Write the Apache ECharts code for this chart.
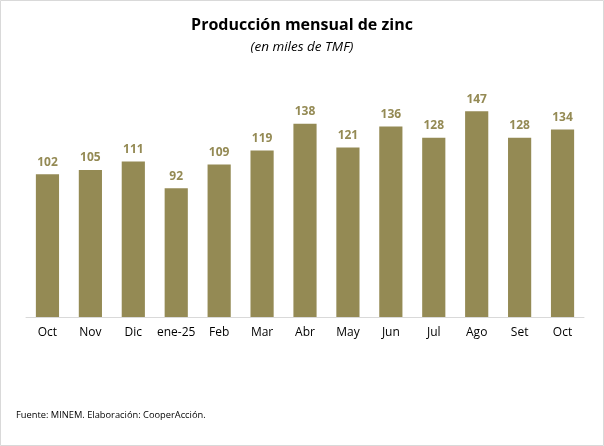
<!DOCTYPE html>
<html><head><meta charset="utf-8">
<script src="https://cdn.jsdelivr.net/npm/echarts@6/dist/echarts.min.js"></script>
<style>html,body{margin:0;padding:0;background:#fff}#c{width:604px;height:446px}</style>
</head><body><div id="c"></div>
<script>
const categories = ["Oct","Nov","Dic","ene-25","Feb","Mar","Abr","May","Jun","Jul","Ago","Set","Oct"];
const values = [102,105,111,92,109,119,138,121,136,128,147,128,134];
const titleText = "Producción mensual de zinc";
const subtitleText = "(en miles de TMF)";
const sourceText = "Fuente: MINEM. Elaboración: CooperAcción.";
const olive = "#948A54";
const chart = echarts.init(document.getElementById('c'), null, {renderer:'canvas'});
chart.setOption({
  animation:false,
  backgroundColor:'#fff',
  textStyle:{fontFamily:'Open Sans'},
  title:[
    {text:titleText,left:'center',top:12,textStyle:{fontSize:16,fontWeight:'bold',color:'#000',fontFamily:'Open Sans'}},
    {text:subtitleText,left:'center',top:35,textStyle:{fontSize:13.5,fontStyle:'italic',fontWeight:'normal',color:'#000',fontFamily:'Open Sans'}}
  ],
  grid:{left:26,right:20,top:93,bottom:129},
  xAxis:{type:'category',data:categories,
    axisLine:{lineStyle:{color:'#d9d9d9',width:1}},
    axisTick:{show:false},
    axisLabel:{color:'#000',fontSize:12,margin:10,interval:0}},
  yAxis:{type:'value',min:0,max:160,show:false,splitLine:{show:false}},
  series:[{type:'bar',data:values,barCategoryGap:'46%',
    itemStyle:{color:olive},
    label:{show:true,position:'top',distance:6,color:olive,fontWeight:'bold',fontSize:12}}],
  graphic:[
    {type:'rect',shape:{x:0.5,y:0.5,width:603,height:445},style:{fill:'none',stroke:'#d9d9d9',lineWidth:1}},
    {type:'text',left:16,top:411,style:{text:sourceText,fontSize:9.3,fill:'#000',fontFamily:'Open Sans'}}
  ]
});
</script></body></html>
